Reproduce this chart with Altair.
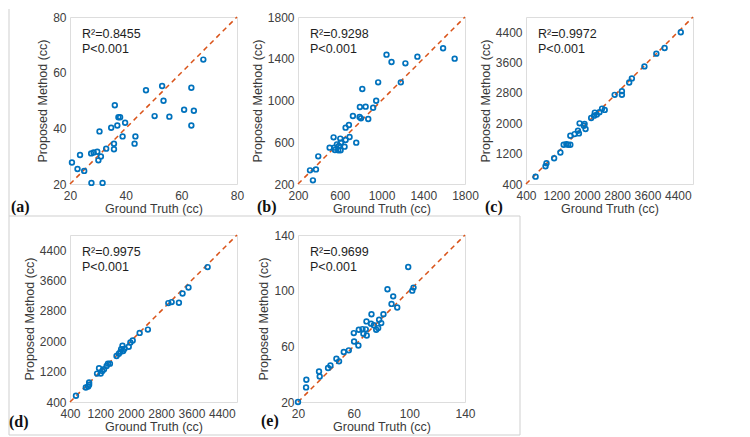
import altair as alt
import pandas as pd

# ---------------- data ----------------
a_gt = [20.7, 22.7, 23.6, 25.1, 27.7, 31.7, 27.6, 28.5, 29.8, 30.2, 31.1, 30.6, 33.0, 35.8, 35.8, 34.8,
        36.1, 37.0, 37.4, 38.0, 39.8, 38.9, 43.2, 43.5, 47.3, 50.4, 53.1, 53.6, 55.7, 61.0, 63.6, 63.6, 64.5, 67.9]
a_pm = [27.7, 25.4, 30.4, 24.7, 20.4, 20.4, 31.0, 31.3, 31.6, 28.5, 29.9, 38.9, 32.7, 32.5, 34.5, 40.2,
        48.3, 41.0, 44.0, 44.0, 42.0, 37.1, 34.5, 37.1, 53.7, 44.4, 55.2, 49.9, 44.2, 46.7, 54.6, 41.0, 46.3, 64.7]

b_gt = [315, 343, 372, 394, 503, 541, 547, 554, 573, 586, 605, 611, 592, 608, 646, 656, 694, 656, 688, 726,
        758, 793, 790, 803, 816, 848, 873, 920, 949, 968, 1048, 1096, 1185, 1229, 1344, 1590, 1701]
b_pm = [331, 235, 340, 465, 548, 647, 548, 526, 580, 523, 635, 596, 564, 523, 558, 621, 650, 740, 765, 851,
        596, 938, 842, 829, 1110, 941, 823, 931, 998, 1174, 1439, 1369, 1174, 1356, 1420, 1500, 1401]

c_gt = [653, 914, 940, 1141, 1306, 1393, 1463, 1507, 1568, 1568, 1681, 1769, 1812, 1794, 1925, 1969, 1943,
        2117, 2195, 2213, 2265, 2335, 2404, 2474, 2736, 2927, 2927, 3119, 3189, 3520, 3834, 4052, 4478]
c_pm = [594, 868, 947, 1080, 1230, 1433, 1451, 1433, 1433, 1671, 1715, 1804, 1998, 1733, 1936, 1848, 1980,
        2139, 2201, 2281, 2228, 2290, 2387, 2352, 2749, 2846, 2749, 3076, 3182, 3499, 3835, 3985, 4400]

d_gt = [557, 817, 878, 904, 904, 1113, 1165, 1209, 1252, 1296, 1365, 1400, 1452, 1626, 1687, 1730, 1748,
        1783, 1800, 1835, 1948, 1991, 2052, 2235, 2452, 2991, 3078, 3270, 3365, 3522, 4026]
d_pm = [566, 783, 810, 914, 853, 1149, 1289, 1149, 1219, 1263, 1350, 1411, 1411, 1611, 1672, 1725, 1794,
        1881, 1742, 1803, 1855, 1968, 2020, 2221, 2308, 3006, 3032, 3014, 3258, 3415, 3955]

e_gt = [20.0, 25.8, 26.0, 35.1, 35.6, 41.6, 43.3, 47.6, 49.5, 52.9, 56.5, 60.1, 60.3, 63.4, 63.7, 66.3, 67.0,
        68.7, 69.2, 69.4, 72.5, 72.8, 74.5, 76.2, 77.6, 78.3, 79.8, 81.4, 84.3, 87.2, 88.4, 91.3, 99.2, 102.1, 103.0]
e_pm = [20.0, 30.5, 36.0, 42.0, 38.4, 44.4, 46.3, 51.1, 49.2, 55.9, 57.1, 69.5, 63.5, 60.6, 71.9, 72.4, 69.0,
        72.2, 77.9, 67.8, 76.3, 83.1, 75.1, 71.9, 73.1, 79.1, 76.7, 83.1, 101.0, 90.5, 95.9, 87.9, 117.0, 100.0, 102.2]

ticks_a = [20, 40, 60, 80]
ticks_b = [200, 600, 1000, 1400, 1800]
ticks_cd = [400, 1200, 2000, 2800, 3600, 4400]
ticks_e = [20, 60, 100, 140]

r2_labels = ["R\u00b2=0.8455", "R\u00b2=0.9298", "R\u00b2=0.9972", "R\u00b2=0.9975", "R\u00b2=0.9699"]
p_label = "P<0.001"
tags = ["(a)", "(b)", "(c)", "(d)", "(e)"]

W, H = 167, 167
FONT = "Liberation Sans"


def make_axis(ticks, title, lab_pad, title_pad):
    return alt.Axis(values=ticks, title=title, format="d", titleFontWeight=400,
                    titleFont=FONT, titleFontSize=12.5, titleColor="#3a3a3a",
                    labelFont=FONT, labelFontSize=12, labelColor="#404040",
                    labelOverlap=False, labelFlush=False, labelSeparation=0,
                    labelPadding=lab_pad, titlePadding=title_pad,
                    grid=False, domain=False, ticks=False)


def panel(gt, pm, lo, hi, ticks, r2, tag, tagx, tagy, extra=None):
    pts = pd.DataFrame({"gt": gt, "pm": pm})
    diag = pd.DataFrame({"gt": [lo, hi], "pm": [lo, hi]})
    one = pd.DataFrame({"d": [0]})
    sx = alt.Scale(domain=[lo, hi], nice=False, zero=False)
    sy = alt.Scale(domain=[lo, hi], nice=False, zero=False)
    xe = alt.X("gt:Q", scale=sx, axis=make_axis(ticks, "Ground Truth (cc)", 6, 1))
    ye = alt.Y("pm:Q", scale=sy, axis=make_axis(ticks, "Proposed Method (cc)", 4, 3))
    line = alt.Chart(diag).mark_line(color="#D95319", strokeDash=[5, 4], strokeWidth=1.5).encode(x=xe, y=ye)
    dots = alt.Chart(pts).mark_point(shape="circle", filled=False, color="#0072BD",
                                     size=22, strokeWidth=1.7, opacity=1).encode(x=xe, y=ye)
    t1 = alt.Chart(one).mark_text(text=r2, align="left", baseline="middle", font=FONT,
                                  fontSize=12.5, color="#1e1e1e").encode(x=alt.value(12), y=alt.value(17))
    t2 = alt.Chart(one).mark_text(text=p_label, align="left", baseline="middle", font=FONT,
                                  fontSize=12.5, color="#1e1e1e").encode(x=alt.value(12), y=alt.value(32))
    t3 = alt.Chart(one).mark_text(text=tag, align="left", baseline="alphabetic", font="Liberation Serif",
                                  fontWeight="bold", fontSize=16, color="#111111").encode(
        x=alt.value(tagx), y=alt.value(tagy))
    layers = [line, dots, t1, t2, t3]
    if extra is not None:
        layers = extra + layers
    return alt.layer(*layers).properties(width=W, height=H)


one_row = pd.DataFrame({"d": [0]})
left_rule = alt.Chart(one_row).mark_rule(color="#cfcfcf", strokeWidth=1).encode(
    x=alt.value(-61), y=alt.value(-8), y2=alt.value(199))
bottom_box = alt.Chart(one_row).mark_rect(fillOpacity=0, stroke="#cfcfcf", strokeWidth=1).encode(
    x=alt.value(-61), x2=alt.value(450), y=alt.value(-19), y2=alt.value(200))

pa = panel(a_gt, a_pm, 20, 80, ticks_a, r2_labels[0], tags[0], -59, 195, extra=[left_rule])
pb = panel(b_gt, b_pm, 200, 1800, ticks_b, r2_labels[1], tags[1], -41, 195)
pc = panel(c_gt, c_pm, 400, 4800, ticks_cd, r2_labels[2], tags[2], -41, 195)
pd_ = panel(d_gt, d_pm, 400, 4800, ticks_cd, r2_labels[3], tags[3], -61, 192, extra=[bottom_box])
pe = panel(e_gt, e_pm, 20, 140, ticks_e, r2_labels[4], tags[4], -37, 191)

chart = alt.concat(pa, pb, pc, pd_, pe, columns=3, spacing={"row": 51, "column": 61},
                   bounds="flush").properties(
    padding={"left": 0, "top": 0, "right": 5, "bottom": 0}
).configure_view(
    stroke="#9a9a9a", strokeWidth=1
).configure(background="white")

chart.save("out.html", embed_options={"renderer": "svg", "actions": False})
